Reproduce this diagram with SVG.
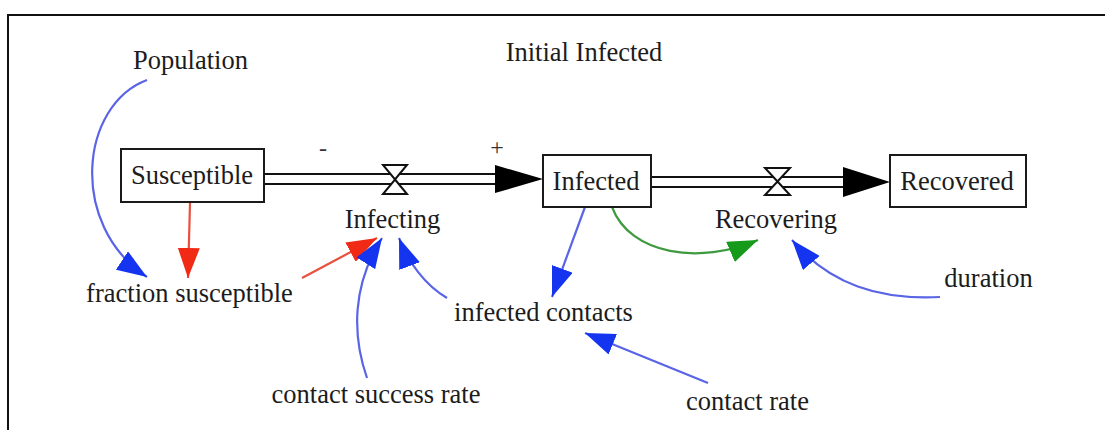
<svg xmlns="http://www.w3.org/2000/svg" width="1105" height="430" viewBox="0 0 1105 430">
<style>
  text { font-family: "Liberation Serif", "Times New Roman", serif; font-size: 26.5px; fill: #1c1c1c; text-anchor: middle; }
  .sign { font-size: 24px; fill: #333333; }
  .box { fill: #ffffff; stroke: #1a1a1a; stroke-width: 2; }
  .pipe { stroke: #111111; stroke-width: 2; fill: none; }
  .head { fill: #000000; }
  .valve { fill: #ffffff; stroke: #111111; stroke-width: 2; stroke-linejoin: miter; }
  .blue { stroke: #5a64e6; stroke-width: 2.2; fill: none; marker-end: url(#ab); }
  .red { stroke: #e8503f; stroke-width: 2.2; fill: none; marker-end: url(#ar); }
  .green { stroke: #3f9a3f; stroke-width: 2.2; fill: none; marker-end: url(#ag); }
</style>
<defs>
  <marker id="ab" viewBox="0 0 30 22" refX="30" refY="11" markerWidth="30" markerHeight="22" markerUnits="userSpaceOnUse" orient="auto">
    <path d="M0,0 L30,11 L0,22 z" fill="#1434f0"/>
  </marker>
  <marker id="ar" viewBox="0 0 30 22" refX="30" refY="11" markerWidth="30" markerHeight="22" markerUnits="userSpaceOnUse" orient="auto">
    <path d="M0,0 L30,11 L0,22 z" fill="#f02a14"/>
  </marker>
  <marker id="ag" viewBox="0 0 30 22" refX="30" refY="11" markerWidth="30" markerHeight="22" markerUnits="userSpaceOnUse" orient="auto">
    <path d="M0,0 L30,11 L0,22 z" fill="#159a1a"/>
  </marker>
</defs>
<rect width="1105" height="430" fill="#ffffff"/>
<rect x="8" y="15" width="1110" height="430" fill="none" stroke="#111111" stroke-width="2"/>

<g id="connectors">
  <path class="blue" d="M147,80 C80,105 68,225 147,277"/>
  <path class="red" d="M190,203 L188,278"/>
  <path class="red" d="M302,278 L377,238"/>
  <path class="blue" d="M367,378 C352,335 352,285 382,238"/>
  <path class="blue" d="M447,298 C425,285 408,262 399,238"/>
  <path class="blue" d="M585,207 L552,297"/>
  <path class="blue" d="M708,383 L585,333"/>
  <path class="green" d="M612,207 C630,255 700,265 758,240"/>
  <path class="blue" d="M940,297 C880,300 830,285 792,240"/>
</g>

<g id="flow-infecting">
  <line class="pipe" x1="264" y1="174" x2="497" y2="174"/>
  <line class="pipe" x1="264" y1="184" x2="497" y2="184"/>
  <polygon class="head" points="495,165 543,179 495,193"/>
  <polygon class="valve" points="383,165 407,165 395,179.5"/>
  <polygon class="valve" points="395,179.5 407,194 383,194"/>
  <text x="392.5" y="228">Infecting</text>
  <text class="sign" x="323" y="156">-</text>
  <text class="sign" x="497" y="155">+</text>
</g>

<g id="flow-recovering">
  <line class="pipe" x1="651" y1="177" x2="845" y2="177"/>
  <line class="pipe" x1="651" y1="187" x2="845" y2="187"/>
  <polygon class="head" points="843,167 890,182 843,197"/>
  <polygon class="valve" points="765,168 790,168 777.5,181.5"/>
  <polygon class="valve" points="777.5,181.5 790,195 765,195"/>
  <text x="776" y="228">Recovering</text>
</g>

<g id="susceptible">
  <rect class="box" x="121" y="149" width="143" height="53"/>
  <text x="192" y="184">Susceptible</text>
</g>
<g id="infected">
  <rect class="box" x="543" y="155" width="108" height="52"/>
  <text x="596" y="190">Infected</text>
</g>
<g id="recovered">
  <rect class="box" x="890" y="155" width="136" height="52"/>
  <text x="957" y="190">Recovered</text>
</g>

<g id="population"><text x="190.5" y="69">Population</text></g>
<g id="initial-infected"><text x="584" y="61">Initial Infected</text></g>
<g id="fraction-susceptible"><text x="189.5" y="302">fraction susceptible</text></g>
<g id="infected-contacts"><text x="543.5" y="321">infected contacts</text></g>
<g id="contact-success-rate"><text x="376" y="403">contact success rate</text></g>
<g id="contact-rate"><text x="747.5" y="410">contact rate</text></g>
<g id="duration"><text x="988.5" y="287">duration</text></g>
</svg>
